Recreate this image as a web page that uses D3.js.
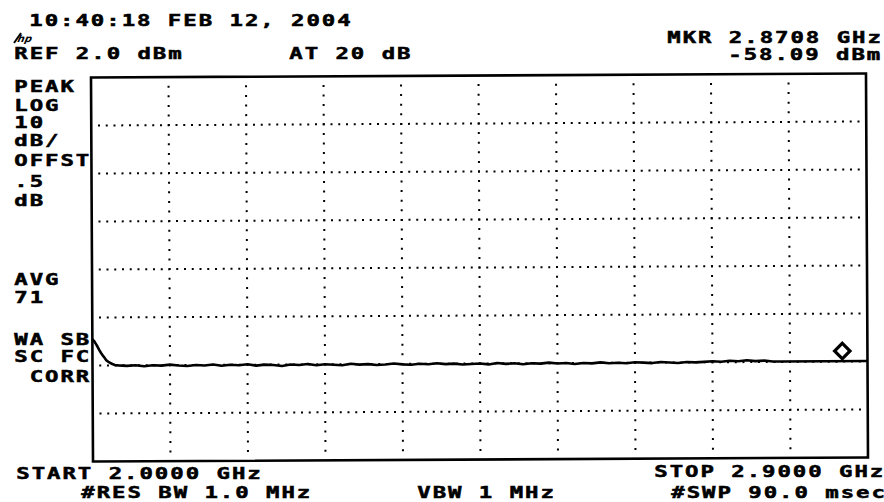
<!DOCTYPE html>
<html lang="en">
<head>
<meta charset="utf-8">
<script src="https://cdn.jsdelivr.net/npm/d3@7"></script>
<style>
    body { margin: 0; background: #fff; }
    .lbl {
        font-family: "DejaVu Sans Mono", monospace;
        font-weight: bold;
        font-size: 15.4px;
        fill: #000;
        stroke: #000;
        stroke-width: 0.5px;
        white-space: pre;
    }
</style>
</head>
<body>
<script>
    // sweep settings
    let startGHz = 2.0;
    let stopGHz = 2.9;
    let refDbm = 2.0;
    let dbPerDiv = 10;
    let xDivs = 10;
    let yDivs = 8;

    // trace (GHz / dBm)
    let traceFreq = [2.000, 2.002, 2.004, 2.006, 2.008, 2.010, 2.012, 2.014, 2.016, 2.018, 2.020, 2.023, 2.026, 2.030,
        2.04, 2.05, 2.06, 2.07, 2.08, 2.09, 2.10, 2.11, 2.12, 2.13, 2.14, 2.15, 2.16, 2.17, 2.18, 2.19,
        2.20, 2.21, 2.22, 2.23, 2.24, 2.25, 2.26, 2.27, 2.28, 2.29, 2.30, 2.31, 2.32, 2.33, 2.34, 2.35,
        2.36, 2.37, 2.38, 2.39, 2.40, 2.41, 2.42, 2.43, 2.44, 2.45, 2.46, 2.47, 2.48, 2.49, 2.50, 2.51,
        2.52, 2.53, 2.54, 2.55, 2.56, 2.57, 2.58, 2.59, 2.60, 2.61, 2.62, 2.63, 2.64, 2.65, 2.66, 2.67,
        2.68, 2.69, 2.70, 2.71, 2.72, 2.73, 2.74, 2.75, 2.76, 2.77, 2.78, 2.79, 2.80, 2.85, 2.90];
    let traceDbm = [-52.5, -52.9, -53.5, -54.1, -54.8, -55.4, -55.9, -56.4, -56.9, -57.2, -57.4, -57.7, -57.9, -58.0,
        -58.1, -58.0, -58.2, -58.0, -58.1, -57.9, -58.1, -58.2, -58.0, -58.1, -57.9, -58.2, -58.0, -58.1, -57.9, -58.2,
        -58.0, -58.1, -58.3, -58.0, -58.1, -57.9, -58.2, -58.0, -58.1, -58.2, -57.9, -58.1, -58.0, -58.2, -58.1, -57.9,
        -58.1, -58.2, -58.0, -58.1, -57.9, -58.1, -58.0, -58.2, -58.1, -58.0, -58.2, -57.9, -58.1, -58.0, -58.2, -58.0,
        -58.1, -57.9, -58.1, -58.0, -58.2, -58.0, -58.1, -57.9, -58.1, -58.0, -58.1, -57.9, -58.0, -58.1, -57.9, -58.0,
        -58.1, -57.9, -58.0, -57.9, -57.8, -57.9, -57.7, -57.8, -57.6, -57.8, -57.7, -57.9, -57.9, -57.9, -57.9];

    // marker
    let markerFreq = 2.8708;
    let markerDbm = -58.09;

    let w = 884;
    let h = 502;

    let svg = d3.select("body")
        .append("svg")
        .attr("width", w)
        .attr("height", h)
        .style("display", "block");

    svg.append("rect").attr("width", w).attr("height", h).attr("fill", "#fff");

    // the scanned screen is a bit tilted
    let plot = svg.append("g").attr("transform", "rotate(-0.3, 480, 268)");

    let xScale = d3.scaleLinear()
        .domain([startGHz, stopGHz])
        .range([92, 867]);

    let yScale = d3.scaleLinear()
        .domain([refDbm - yDivs * dbPerDiv, refDbm])
        .range([459.5, 75.5]);

    let xGrid = d3.range(1, xDivs).map(i => startGHz + i * (stopGHz - startGHz) / xDivs);
    let yGrid = d3.range(1, yDivs).map(i => refDbm - i * dbPerDiv);

    let hStep = (xScale(stopGHz) - xScale(startGHz)) / xDivs / 10;
    let vStep = (yScale(refDbm - dbPerDiv) - yScale(refDbm)) / 5;

    // dotted graticule
    plot.selectAll(".hgrid")
        .data(yGrid)
        .join("line")
        .attr("class", "hgrid")
        .attr("x1", xScale(startGHz) + hStep - 1)
        .attr("x2", xScale(stopGHz) - hStep / 2)
        .attr("y1", d => yScale(d))
        .attr("y2", d => yScale(d))
        .attr("stroke", "#000")
        .attr("stroke-width", 2)
        .attr("stroke-dasharray", `2 ${hStep - 2}`);

    plot.selectAll(".vgrid")
        .data(xGrid)
        .join("line")
        .attr("class", "vgrid")
        .attr("x1", d => xScale(d))
        .attr("x2", d => xScale(d))
        .attr("y1", yScale(refDbm) + vStep - 1)
        .attr("y2", yScale(refDbm - yDivs * dbPerDiv) - vStep / 2)
        .attr("stroke", "#000")
        .attr("stroke-width", 2)
        .attr("stroke-dasharray", `2 ${vStep - 2}`);

    // frame
    plot.append("rect")
        .attr("x", xScale(startGHz))
        .attr("y", yScale(refDbm))
        .attr("width", xScale(stopGHz) - xScale(startGHz))
        .attr("height", yScale(refDbm - yDivs * dbPerDiv) - yScale(refDbm))
        .attr("fill", "none")
        .attr("stroke", "#000")
        .attr("stroke-width", 2.6);

    // trace
    let line = d3.line()
        .x((d, i) => xScale(traceFreq[i]))
        .y(d => yScale(d));

    plot.append("path")
        .datum(traceDbm)
        .attr("d", line)
        .attr("fill", "none")
        .attr("stroke", "#000")
        .attr("stroke-width", 2.6)
        .attr("stroke-linejoin", "round");

    // marker diamond sits just above the trace
    plot.append("path")
        .attr("d", d3.symbol(d3.symbolSquare, 118)())
        .attr("transform", `translate(${xScale(markerFreq)},${yScale(markerDbm) - 11}) rotate(45)`)
        .attr("fill", "#fff")
        .attr("stroke", "#000")
        .attr("stroke-width", 3.2);

    // screen annotations, fixed-pitch like the analyzer font
    let pitch = 15.4;
    let sx = 1.45;
    function label(x, y, str) {
        svg.append("text")
            .attr("class", "lbl")
            .attr("transform", `scale(${sx},1)`)
            .attr("x", Array.from(str, (c, i) => ((x + 6 + i * pitch) / sx).toFixed(2)).join(" "))
            .attr("y", y)
            .attr("text-anchor", "middle")
            .text(str);
    }

    label(30, 26, "10:40:18 FEB 12, 2004");
    label(15, 59, "REF 2.0 dBm");
    label(290, 59, "AT 20 dB");
    label(668, 43, "MKR 2.8708 GHz");
    label(729, 60.5, "-58.09 dBm");

    label(15, 92, "PEAK");
    label(15, 111, "LOG");
    label(15, 128, "10");
    label(15, 146, "dB/");
    label(15, 166, "OFFST");
    label(15, 187, ".5");
    label(15, 206, "dB");
    label(15, 285, "AVG");
    label(15, 303, "71");
    label(15, 345, "WA SB");
    label(15, 362.5, "SC FC");
    label(15, 382, " CORR");

    label(17, 479, "START 2.0000 GHz");
    label(82, 498, "#RES BW 1.0 MHz");
    label(418, 498, "VBW 1 MHz");
    label(655, 477, "STOP 2.9000 GHz");
    label(672, 498, "#SWP 90.0 msec");

    // hp logo
    svg.append("text")
        .attr("x", 18)
        .attr("y", 42)
        .attr("font-family", "DejaVu Sans")
        .attr("font-weight", "bold")
        .attr("font-style", "italic")
        .attr("font-size", 10)
        .attr("transform", "skewX(-12)")
        .attr("dx", 8)
        .text("hp");
    svg.append("line")
        .attr("x1", 14).attr("y1", 43)
        .attr("x2", 21).attr("y2", 33)
        .attr("stroke", "#000")
        .attr("stroke-width", 2);
</script>
</body>
</html>
